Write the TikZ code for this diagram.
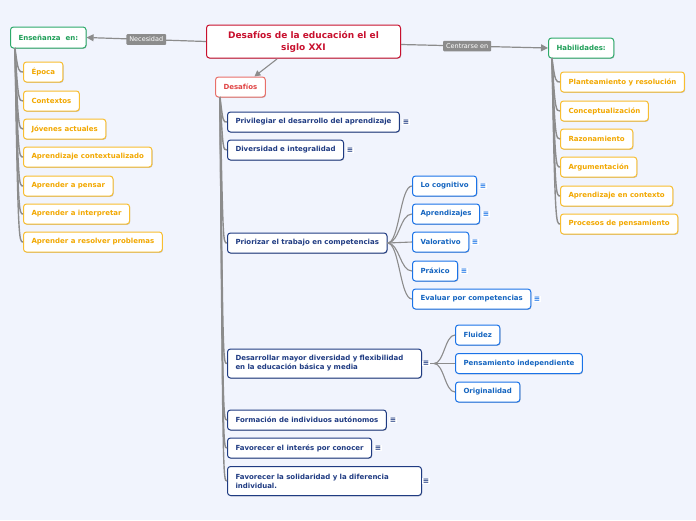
\documentclass[tikz,border=0pt]{standalone}
\usepackage{fontspec}
\setmainfont{DejaVu Sans}
\usetikzlibrary{shadows,arrows.meta}
\definecolor{bg}{HTML}{F1F4FD}
\definecolor{mainred}{HTML}{C8102E}
\definecolor{lred}{HTML}{E8706A}
\definecolor{lredt}{HTML}{E04545}
\definecolor{grn}{HTML}{2DAA6A}
\definecolor{grnt}{HTML}{1E9E57}
\definecolor{org}{HTML}{F8BE30}
\definecolor{orgt}{HTML}{F2A800}
\definecolor{navy}{HTML}{1F3B82}
\definecolor{blu}{HTML}{1A73E8}
\definecolor{blut}{HTML}{1565C0}
\definecolor{gline}{HTML}{8C8C8C}
\tikzset{
  x=1pt,y=1pt,
  box/.style={draw,fill=white,rounded corners=3pt,line width=1pt,anchor=west,
    inner xsep=8pt,inner ysep=0pt,minimum height=20pt,
    font=\fontsize{7}{9}\selectfont\bfseries,
    drop shadow={shadow xshift=0.6pt,shadow yshift=-0.8pt,opacity=0.22,fill=black}},
  orgbox/.style={box,draw=org,text=orgt},
  grnbox/.style={box,draw=grn,text=grnt},
  navbox/.style={box,draw=navy,text=navy},
  blubox/.style={box,draw=blu,text=blut},
  tree/.style={draw=gline,line width=1.4pt},
  fan/.style={draw=gline,line width=1.1pt},
  lbl/.style={fill=gline,text=white,rounded corners=1pt,inner xsep=3pt,inner ysep=2.8pt,
    font=\fontsize{6.5}{7}\selectfont},
  ico/.style={fill=white,text=navy,inner sep=0.6pt,font=\fontsize{7.5}{7.5}\selectfont\bfseries},
  icob/.style={ico,text=blu},
}
\begin{document}
\begin{tikzpicture}
\useasboundingbox (0,0) rectangle (696,-520);
\fill[bg] (0,0) rectangle (696,-520);

% main
\node[box,draw=mainred,text=mainred,minimum width=194pt,minimum height=33pt,align=center,
  font=\fontsize{9}{12}\selectfont\bfseries] (main) at (206,-41.5)
  {Desafíos de la educación el el\\siglo XXI};

\node[grnbox,minimum height=21pt] (ens) at (10,-37.5) {Enseñanza\ \ en:};
\node[grnbox,minimum height=20pt] (hab) at (548,-48) {Habilidades:};
\node[box,draw=lred,text=lredt] (des) at (215,-87) {Desafíos};

% top connectors
\draw[gline,line width=1.2pt,-{Triangle[length=7pt,width=7pt]}] (main.west) -- (ens.east)
  node[lbl,pos=0.5] (nec) {Necesidad};
\draw[gline,line width=1.2pt,-{Triangle[length=7pt,width=7pt]}] ([yshift=-3pt]main.east) -- (hab.west)
  node[lbl,pos=0.45] (cen) {Centrarse en};
\coordinate (mb) at (277,-59);
\draw[gline,line width=1.1pt,-{Triangle[length=6pt,width=6pt]}] (mb) -- ([xshift=14pt]des.north);

% left orange
\node[orgbox] (e1) at (23,-72) {Época};
\node[orgbox] (e2) at (23,-101) {Contextos};
\node[orgbox] (e3) at (23,-129) {Jóvenes actuales};
\node[orgbox] (e4) at (23,-157) {Aprendizaje contextualizado};
\node[orgbox] (e5) at (23,-186) {Aprender a pensar};
\node[orgbox] (e6) at (23,-214) {Aprender a interpretar};
\node[orgbox] (e7) at (23,-242) {Aprender a resolver problemas};
\coordinate (es) at (15,-48);
\foreach \c in {e1,e2,e3,e4,e5,e6,e7}{
  \draw[tree] (es) .. controls ([xshift=3pt]es |- \c.west) and ([xshift=-4pt]\c.west) .. (\c.west);
}

% right orange
\node[orgbox] (h1) at (560,-82) {Planteamiento y resolución};
\node[orgbox] (h2) at (560,-111) {Conceptualización};
\node[orgbox] (h3) at (560,-139) {Razonamiento};
\node[orgbox] (h4) at (560,-167) {Argumentación};
\node[orgbox] (h5) at (560,-196) {Aprendizaje en contexto};
\node[orgbox] (h6) at (560,-224) {Procesos de pensamiento};
\coordinate (hs) at (552,-58);
\foreach \c in {h1,h2,h3,h4,h5,h6}{
  \draw[tree] (hs) .. controls ([xshift=3pt]hs |- \c.west) and ([xshift=-4pt]\c.west) .. (\c.west);
}

% desafios children
\node[navbox] (d1) at (227,-122) {Privilegiar el desarrollo del aprendizaje};
\node[navbox] (d2) at (227,-150) {Diversidad e integralidad};
\node[navbox] (d3) at (227,-243) {Priorizar el trabajo en competencias};
\node[navbox,text width=178pt,minimum height=29pt,align=left,
  font=\fontsize{7}{9}\selectfont\bfseries] (d4) at (227,-363.5)
  {Desarrollar mayor diversidad y flexibilidad\\en la educación básica y media};
\node[navbox] (d5) at (227,-420) {Formación de individuos autónomos};
\node[navbox] (d6) at (227,-448) {Favorecer el interés por conocer};
\node[navbox,text width=178pt,minimum height=29pt,align=left,
  font=\fontsize{7}{9}\selectfont\bfseries] (d7) at (227,-481)
  {Favorecer la solidaridad y la diferencia\\individual.};
\coordinate (ds) at (220,-97);
\foreach \c in {d1,d2,d3,d4,d5,d6,d7}{
  \draw[tree] (ds) .. controls ([xshift=3pt]ds |- \c.west) and ([xshift=-4pt]\c.west) .. (\c.west);
}

% competencias children
\node[blubox] (c1) at (412,-186) {Lo cognitivo};
\node[blubox] (c2) at (412,-214) {Aprendizajes};
\node[blubox] (c3) at (412,-242) {Valorativo};
\node[blubox] (c4) at (412,-271) {Práxico};
\node[blubox] (c5) at (412,-299) {Evaluar por competencias};
\foreach \c in {c1,c2,c3,c4,c5}{
  \draw[fan] (d3.east) .. controls ([xshift=12pt]d3.east) and ([xshift=-12pt]\c.west) .. (\c.west);
}

% desarrollar children
\node[blubox] (f1) at (455,-335) {Fluidez};
\node[blubox] (f2) at (455,-363.5) {Pensamiento independiente};
\node[blubox] (f3) at (455,-392) {Originalidad};
\coordinate (fs) at (434,-363.5);
\draw[fan] (d4.east) -- (fs);
\foreach \c in {f1,f2,f3}{
  \draw[fan] (fs) .. controls ([xshift=10pt]fs) and ([xshift=-10pt]\c.west) .. (\c.west);
}

% icons
\node[ico] (i1) at (406,-122) {≡};
\node[ico] (i2) at (350,-150) {≡};
\node[ico] (i4) at (426,-363.5) {≡};
\node[ico] (i5) at (393,-420) {≡};
\node[ico] (i6) at (378,-448) {≡};
\node[ico] (i7) at (426,-481) {≡};
\node[icob] (j1) at (483,-186) {≡};
\node[icob] (j2) at (486,-214) {≡};
\node[icob] (j3) at (475,-242) {≡};
\node[icob] (j4) at (464,-271) {≡};
\node[icob] (j5) at (537,-299) {≡};
\end{tikzpicture}
\end{document}
